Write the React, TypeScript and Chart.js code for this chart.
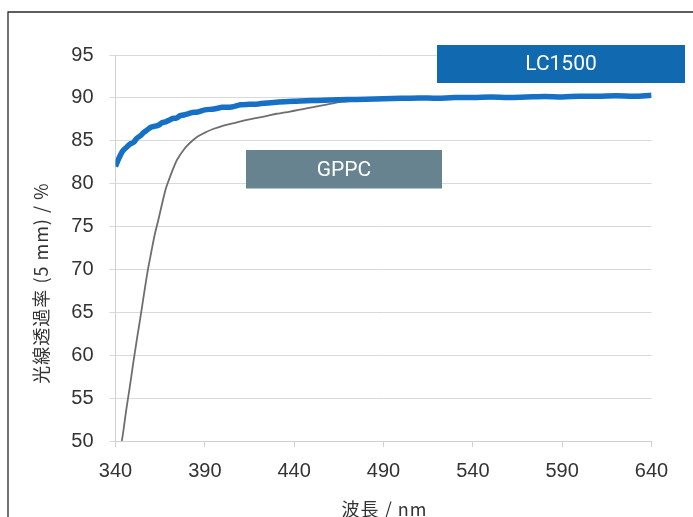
import React, { useEffect, useRef } from "react";
import { Chart, registerables } from "chart.js";

Chart.register(...registerables);

const SERIES_NAMES = ["LC1500", "GPPC"];

const LC_WAVELENGTHS = [
  340, 342, 344, 346, 348, 350, 352, 354, 356, 358, 360, 362, 364, 366, 368, 370,
  372, 374, 376, 378, 380, 383, 386, 390, 395, 400, 405, 410, 415, 420, 425, 430,
  440, 450, 460, 470, 480, 490, 500, 510, 520, 530, 540, 550, 560, 570, 580, 590,
  600, 610, 620, 630, 640,
];
const LC_VALUES = [
  82.0, 83.0, 83.8, 84.2, 84.6, 84.8, 85.3, 85.6, 86.0, 86.3, 86.6, 86.7, 86.8, 87.1, 87.2, 87.4,
  87.6, 87.65, 87.9, 88.0, 88.1, 88.3, 88.35, 88.6, 88.7, 88.9, 88.95, 89.2, 89.25, 89.3, 89.4, 89.5,
  89.6, 89.7, 89.75, 89.8, 89.85, 89.9, 89.95, 90.0, 89.95, 90.05, 90.05, 90.1, 90.05, 90.1, 90.15, 90.1,
  90.2, 90.2, 90.25, 90.2, 90.3,
];

const GPPC_WAVELENGTHS = [
  343.5, 344, 346, 348, 350, 352, 354, 356, 358, 360, 362, 364, 366, 368, 370, 372,
  374, 376, 378, 380, 383, 386, 390, 395, 400, 405, 410, 415, 420, 425, 430, 435,
  440, 445, 450, 455, 460, 465, 470, 480, 490, 500, 520, 540, 560, 580, 600, 620, 640,
];
const GPPC_VALUES = [
  50.0, 50.6, 53.6, 56.3, 59.2, 61.9, 64.5, 67.2, 69.8, 72.0, 74.1, 75.8, 77.6, 79.3, 80.5, 81.6,
  82.6, 83.3, 83.9, 84.4, 85.0, 85.5, 85.95, 86.4, 86.75, 87.0, 87.25, 87.5, 87.7, 87.9, 88.15, 88.3,
  88.5, 88.7, 88.9, 89.1, 89.3, 89.5, 89.6, 89.75, 89.85, 89.9, 89.95, 90.0, 90.0, 90.05, 90.1, 90.15, 90.2,
];

const X_TICKS = [340, 390, 440, 490, 540, 590, 640];
const Y_TICKS = [50, 55, 60, 65, 70, 75, 80, 85, 90, 95];
const X_TITLE = "波長 / nm";
const Y_TITLE = "光線透過率 (5 mm) / %";

const W = 693;
const H = 517;

const decorPlugin = {
  id: "decor",
  beforeDraw(chart: any) {
    const ctx = chart.ctx;
    ctx.save();
    ctx.fillStyle = "#ffffff";
    ctx.fillRect(0, 0, W, H);
    ctx.restore();
  },
  afterDraw(chart: any) {
    const ctx = chart.ctx;
    ctx.save();
    // frame
    ctx.strokeStyle = "#2a2a2a";
    ctx.lineWidth = 1.3;
    ctx.beginPath();
    ctx.moveTo(8, H);
    ctx.lineTo(8, 12);
    ctx.lineTo(W, 12);
    ctx.stroke();

    // legend boxes
    const boxes = [
      { label: SERIES_NAMES[0], x: 437, y: 45, w: 248, h: 38, color: "#1169b0" },
      { label: SERIES_NAMES[1], x: 246, y: 150, w: 196, h: 38.5, color: "#66838f" },
    ];
    for (const b of boxes) {
      ctx.fillStyle = b.color;
      ctx.fillRect(b.x, b.y, b.w, b.h);
      ctx.fillStyle = "#ffffff";
      ctx.font = '21px Roboto, "Liberation Sans", sans-serif';
      ctx.textAlign = "center";
      ctx.textBaseline = "middle";
      ctx.fillText(b.label, b.x + b.w / 2, b.y + b.h / 2 + 1);
    }

    // axis titles
    ctx.fillStyle = "#333333";
    ctx.font = '18px "Noto Sans CJK JP", sans-serif';
    (ctx as any).letterSpacing = "1px";
    ctx.textAlign = "center";
    ctx.textBaseline = "middle";
    const area = chart.chartArea;
    ctx.fillText(X_TITLE, (area.left + area.right) / 2 + 1, 509);

    ctx.translate(41, 283);
    ctx.rotate(-Math.PI / 2);
    ctx.fillText(Y_TITLE, 0, 0);
    ctx.restore();
  },
};

export default function App() {
  const ref = useRef<HTMLCanvasElement | null>(null);

  useEffect(() => {
    if (!ref.current) return;
    const chart = new Chart(ref.current, {
      type: "line",
      data: {
        datasets: [
          {
            label: SERIES_NAMES[0],
            data: LC_WAVELENGTHS.map((x, i) => ({ x, y: LC_VALUES[i] })),
            borderColor: "#1570c6",
            borderWidth: 5.5,
            pointRadius: 0,
            cubicInterpolationMode: "monotone",
            fill: false,
          },
          {
            label: SERIES_NAMES[1],
            data: GPPC_WAVELENGTHS.map((x, i) => ({ x, y: GPPC_VALUES[i] })),
            borderColor: "#6e6e6e",
            borderWidth: 1.8,
            pointRadius: 0,
            cubicInterpolationMode: "monotone",
            fill: false,
          },
        ],
      },
      options: {
        animation: false,
        responsive: false,
        devicePixelRatio: 1,
        layout: { padding: { left: 0, top: 55, right: 41.5, bottom: 0 } },
        plugins: {
          legend: { display: false },
          tooltip: { enabled: false },
        },
        scales: {
          x: {
            type: "linear",
            min: X_TICKS[0],
            max: X_TICKS[X_TICKS.length - 1],
            afterBuildTicks: (s: any) => {
              s.ticks = X_TICKS.map((v) => ({ value: v }));
            },
            afterFit: (s: any) => {
              s.height = 76;
            },
            grid: {
              display: true,
              drawOnChartArea: false,
              drawTicks: true,
              tickLength: 6,
              color: "#d0d0d0",
            },
            border: { display: true, color: "#d0d0d0" },
            ticks: {
              padding: 12,
              color: "#333333",
              font: { family: '"Liberation Sans", Arial, sans-serif', size: 20 },
              maxRotation: 0,
              autoSkip: false,
            },
          },
          y: {
            type: "linear",
            min: Y_TICKS[0],
            max: Y_TICKS[Y_TICKS.length - 1],
            afterBuildTicks: (s: any) => {
              s.ticks = Y_TICKS.map((v) => ({ value: v }));
            },
            afterFit: (s: any) => {
              s.width = 115.5;
            },
            grid: {
              display: true,
              drawTicks: true,
              tickLength: 6,
              color: "#d9d9d9",
            },
            border: { display: true, color: "#d0d0d0" },
            ticks: {
              padding: 16,
              color: "#333333",
              font: { family: '"Liberation Sans", Arial, sans-serif', size: 20 },
              autoSkip: false,
            },
          },
        },
      },
      plugins: [decorPlugin],
    });
    return () => chart.destroy();
  }, []);

  return (
    <div style={{ position: "fixed", left: 0, top: 0, width: W, height: H, background: "#fff" }}>
      <canvas ref={ref} width={W} height={H} style={{ display: "block", width: W, height: H }} />
    </div>
  );
}
